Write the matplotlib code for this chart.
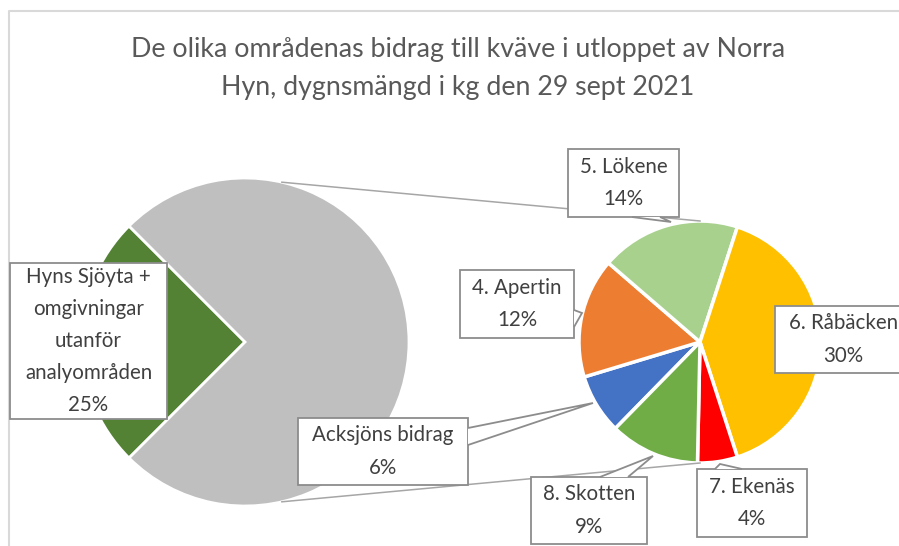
import numpy as np
import matplotlib.pyplot as plt
from matplotlib.patches import Rectangle, Polygon

plt.rcParams['font.family'] = ['Lato', 'DejaVu Sans']

# Data (andel av kväve, %)
hyn_label = "Hyns Sjöyta +\nomgivningar\nutanför\nanalyområden"
hyn_value = 25
sub_labels = ["Acksjöns bidrag", "4. Apertin", "5. Lökene", "6. Råbäcken", "7. Ekenäs", "8. Skotten"]
sub_values = [6, 12, 14, 30, 4, 9]
sub_colors = ['#4472C4', '#ED7D31', '#A9D18E', '#FFC000', '#FF0000', '#70AD47']

title_lines = ["De olika områdenas bidrag till kväve i utloppet av Norra",
               "Hyn, dygnsmängd i kg den 29 sept 2021"]

W, H = 899, 546
fig = plt.figure(figsize=(W / 100, H / 100), dpi=100)
ax = fig.add_axes([0, 0, 1, 1])

def Y(y):
    # bildkoordinat -> data
    return H - y

total = hyn_value + sum(sub_values)
rest = sum(sub_values)

# huvudpajen
main_c = (245, Y(342))
main_r = 164
ax.pie([hyn_value, rest], colors=['#548235', '#BFBFBF'], startangle=135,
       center=main_c, radius=main_r, frame=True,
       wedgeprops=dict(edgecolor='white', linewidth=2))

# sekundär paj
sub_c = (700, Y(342))
sub_r = 121
ax.pie(sub_values, colors=sub_colors, startangle=225.6, counterclock=False,
       center=sub_c, radius=sub_r, frame=True,
       wedgeprops=dict(edgecolor='white', linewidth=2.5))
ax.set_xlim(0, W)
ax.set_ylim(0, H)
ax.set_aspect('equal')
ax.axis('off')

# förbindelselinjer
ang = np.deg2rad(77)
for s in (1, -1):
    p0 = (main_c[0] + main_r * np.cos(ang), main_c[1] + s * main_r * np.sin(ang))
    p1 = (sub_c[0], sub_c[1] + s * sub_r)
    ax.plot([p0[0], p1[0]], [p0[1], p1[1]], color='#A6A6A6', lw=1.1, zorder=1)

# etiketter
edge = '#8C8C8C'
txt = '#404040'
boxes = {
    'hyn': ((10, 263, 167, 419), None),
    0: ((298, 418, 468, 485), [(468, 428), (593, 403), (468, 445)]),
    1: ((460, 270, 574, 338), [(574, 310), (582, 313), (574, 327)]),
    2: ((568, 149, 679, 217), [(632, 217), (671, 222), (660, 217)]),
    3: ((775, 306, 912, 373), None),
    4: ((697, 469, 807, 537), [(715, 469), (720, 464), (742, 469)]),
    5: ((531, 477, 647, 544), [(600, 477), (653, 456), (628, 477)]),
}
for key, ((x0, y0, x1, y1), ptr) in boxes.items():
    ax.add_patch(Rectangle((x0, Y(y1)), x1 - x0, y1 - y0, fc='white', ec=edge, lw=1.3, zorder=5))
    if ptr:
        pts = [(px, Y(py)) for px, py in ptr]
        ax.add_patch(Polygon(pts, closed=False, fc='white', ec=edge, lw=1.3, zorder=6))
    if key == 'hyn':
        s = f"{hyn_label}\n{hyn_value / total:.0%}"
    else:
        s = f"{sub_labels[key]}\n{sub_values[key] / total:.0%}"
    ax.text((x0 + x1) / 2, Y((y0 + y1) / 2), s, ha='center', va='center',
            fontsize=14.8, color=txt, linespacing=1.76, zorder=7)

# ram
ax.plot([9, 9, W], [0, Y(11), Y(11)], color='#D9D9D9', lw=1.5, zorder=0)

for line, base in zip(title_lines, (57, 95)):
    ax.text(458, Y(base), line, ha='center', va='baseline', fontsize=19.3,
            color='#595959')

fig.savefig('out.png', dpi=100)
